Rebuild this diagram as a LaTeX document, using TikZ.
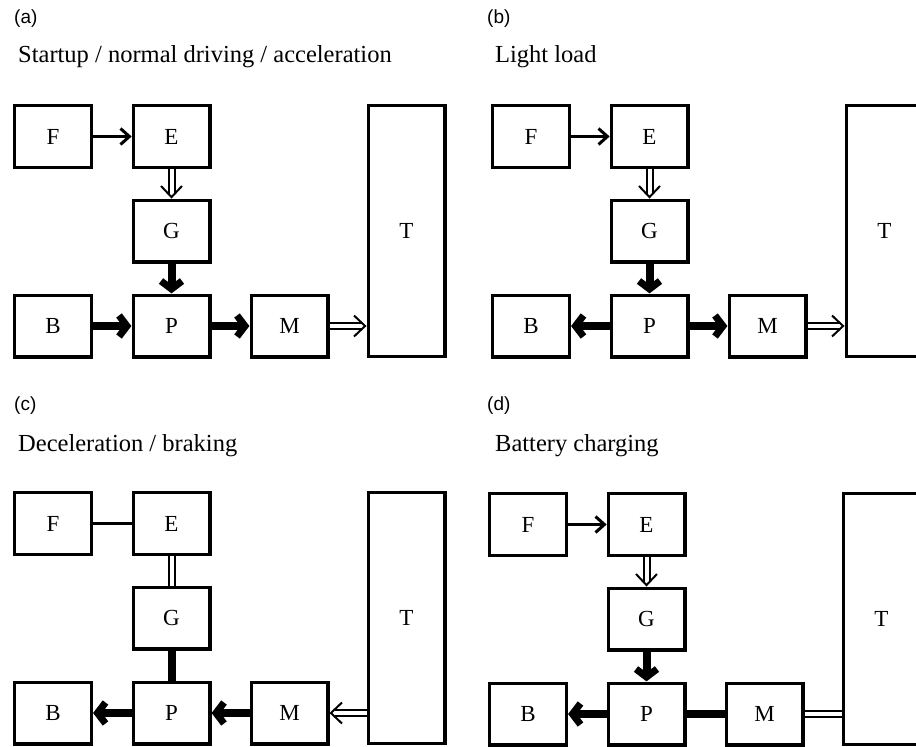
\documentclass[tikz,border=0pt]{standalone}
\usepackage{fontspec}
\setmainfont{Liberation Serif}
\newfontfamily\tagfont{Liberation Sans}
\usetikzlibrary{calc}

\tikzset{
  unit/.style={draw, line width=3.3pt, minimum width=76.7pt, minimum height=61.7pt,
    inner sep=0pt, font=\fontsize{23}{23}\selectfont},
  tallunit/.style={unit, minimum height=250.7pt},
  lightflow/.style={line width=3pt},
  lightarrow/.style={lightflow, shorten >=3pt},
  heavyflow/.style={line width=8pt},
  heavyarrow/.style={heavyflow, shorten >=8pt},
  mechflow/.style={double, double distance=4pt, line width=2pt},
  mecharrow/.style={mechflow, shorten >=5pt},
  headstroke/.style={miter limit=10, line cap=butt},
  paneltag/.style={font=\tagfont\fontsize{19}{19}\selectfont, anchor=west, inner sep=0pt},
  modetitle/.style={font=\fontsize{24.5}{24.5}\selectfont, anchor=base west, inner sep=0pt},
}

% the seven units of one panel; #1 is the name suffix
\newcommand\drawunits[1]{%
  \node[unit] (F#1) at (53,136.5) {F};
  \node[unit] (E#1) at (171.5,136.5) {E};
  \node[unit] (G#1) at (171.5,231) {G};
  \node[unit] (B#1) at (53,326) {B};
  \node[unit] (P#1) at (171.5,326) {P};
  \node[unit] (M#1) at (289.5,326) {M};
  \node[tallunit] (T#1) at (406.5,231) {T};
}
% open arrow heads: tip at #1, pointing in direction #2 (degrees)
\newcommand\lighthead[2]{%
  \draw[headstroke, line width=3pt, shift={(#1)}, rotate=#2]
    (-11pt,8pt) -- (-2.1pt,0pt) -- (-11pt,-8pt);
}
\newcommand\heavyhead[2]{%
  \draw[headstroke, line width=7pt, shift={(#1)}, rotate=#2]
    (-12.5pt,10.5pt) -- (-4.5pt,0pt) -- (-12.5pt,-10.5pt);
}
\newcommand\veetip[2]{%
  \draw[headstroke, line width=2pt, shift={(#1)}, rotate=#2]
    (-12.5pt,10.5pt) -- (-1.4pt,0pt) -- (-12.5pt,-10.5pt);
}

\begin{document}
\begin{tikzpicture}[x=1pt, y=-1pt]
\useasboundingbox (0,0) rectangle (916,747);

% ---------- (a) startup / normal driving / acceleration ----------
\node[paneltag] (tagA) at (14,19) {(a)};
\node[modetitle] (modeA) at (18,62) {Startup / normal driving / acceleration};
\begin{scope}
  \drawunits{a}
  \draw[lightarrow] (Fa) -- (Ea);     \lighthead{Ea.west}{0}
  \draw[mecharrow] (Ea) -- (Ga);      \veetip{Ga.north}{-90}
  \draw[heavyarrow] (Ga) -- (Pa);     \heavyhead{Pa.north}{-90}
  \draw[heavyarrow] (Ba) -- (Pa);     \heavyhead{Pa.west}{0}
  \draw[heavyarrow] (Pa) -- (Ma);     \heavyhead{Ma.west}{0}
  \coordinate (Ta) at (Ma.east -| Ta.west);
  \draw[mecharrow] (Ma.east) -- (Ta); \veetip{Ta}{0}
\end{scope}

% ---------- (b) light load ----------
\node[paneltag] (tagB) at (487,19) {(b)};
\node[modetitle] (modeB) at (495,62) {Light load};
\begin{scope}[shift={(478,0)}]
  \drawunits{b}
  \draw[lightarrow] (Fb) -- (Eb);     \lighthead{Eb.west}{0}
  \draw[mecharrow] (Eb) -- (Gb);      \veetip{Gb.north}{-90}
  \draw[heavyarrow] (Gb) -- (Pb);     \heavyhead{Pb.north}{-90}
  \draw[heavyarrow] (Pb) -- (Bb);     \heavyhead{Bb.east}{180}
  \draw[heavyarrow] (Pb) -- (Mb);     \heavyhead{Mb.west}{0}
  \coordinate (Tb) at (Mb.east -| Tb.west);
  \draw[mecharrow] (Mb.east) -- (Tb); \veetip{Tb}{0}
\end{scope}

% ---------- (c) deceleration / braking ----------
\node[paneltag] (tagC) at (14,406) {(c)};
\node[modetitle] (modeC) at (18,451) {Deceleration / braking};
\begin{scope}[shift={(0,387)}]
  \drawunits{c}
  \draw[lightflow] (Fc) -- (Ec);
  \draw[mechflow] (Ec) -- (Gc);
  \draw[heavyflow] (Gc) -- (Pc);
  \draw[heavyarrow] (Pc) -- (Bc);     \heavyhead{Bc.east}{180}
  \draw[heavyarrow] (Mc) -- (Pc);     \heavyhead{Pc.east}{180}
  \coordinate (Tc) at (Mc.east -| Tc.west);
  \draw[mecharrow] (Tc) -- (Mc.east); \veetip{Mc.east}{180}
\end{scope}

% ---------- (d) battery charging ----------
\node[paneltag] (tagD) at (487,406) {(d)};
\node[modetitle] (modeD) at (495,451) {Battery charging};
\begin{scope}[shift={(475,388)}]
  \drawunits{d}
  \draw[lightarrow] (Fd) -- (Ed);     \lighthead{Ed.west}{0}
  \draw[mecharrow] (Ed) -- (Gd);      \veetip{Gd.north}{-90}
  \draw[heavyarrow] (Gd) -- (Pd);     \heavyhead{Pd.north}{-90}
  \draw[heavyarrow] (Pd) -- (Bd);     \heavyhead{Bd.east}{180}
  \draw[heavyflow] (Pd) -- (Md);
  \coordinate (Td) at (Md.east -| Td.west);
  \draw[mechflow] (Md.east) -- (Td);
\end{scope}
\end{tikzpicture}
\end{document}
